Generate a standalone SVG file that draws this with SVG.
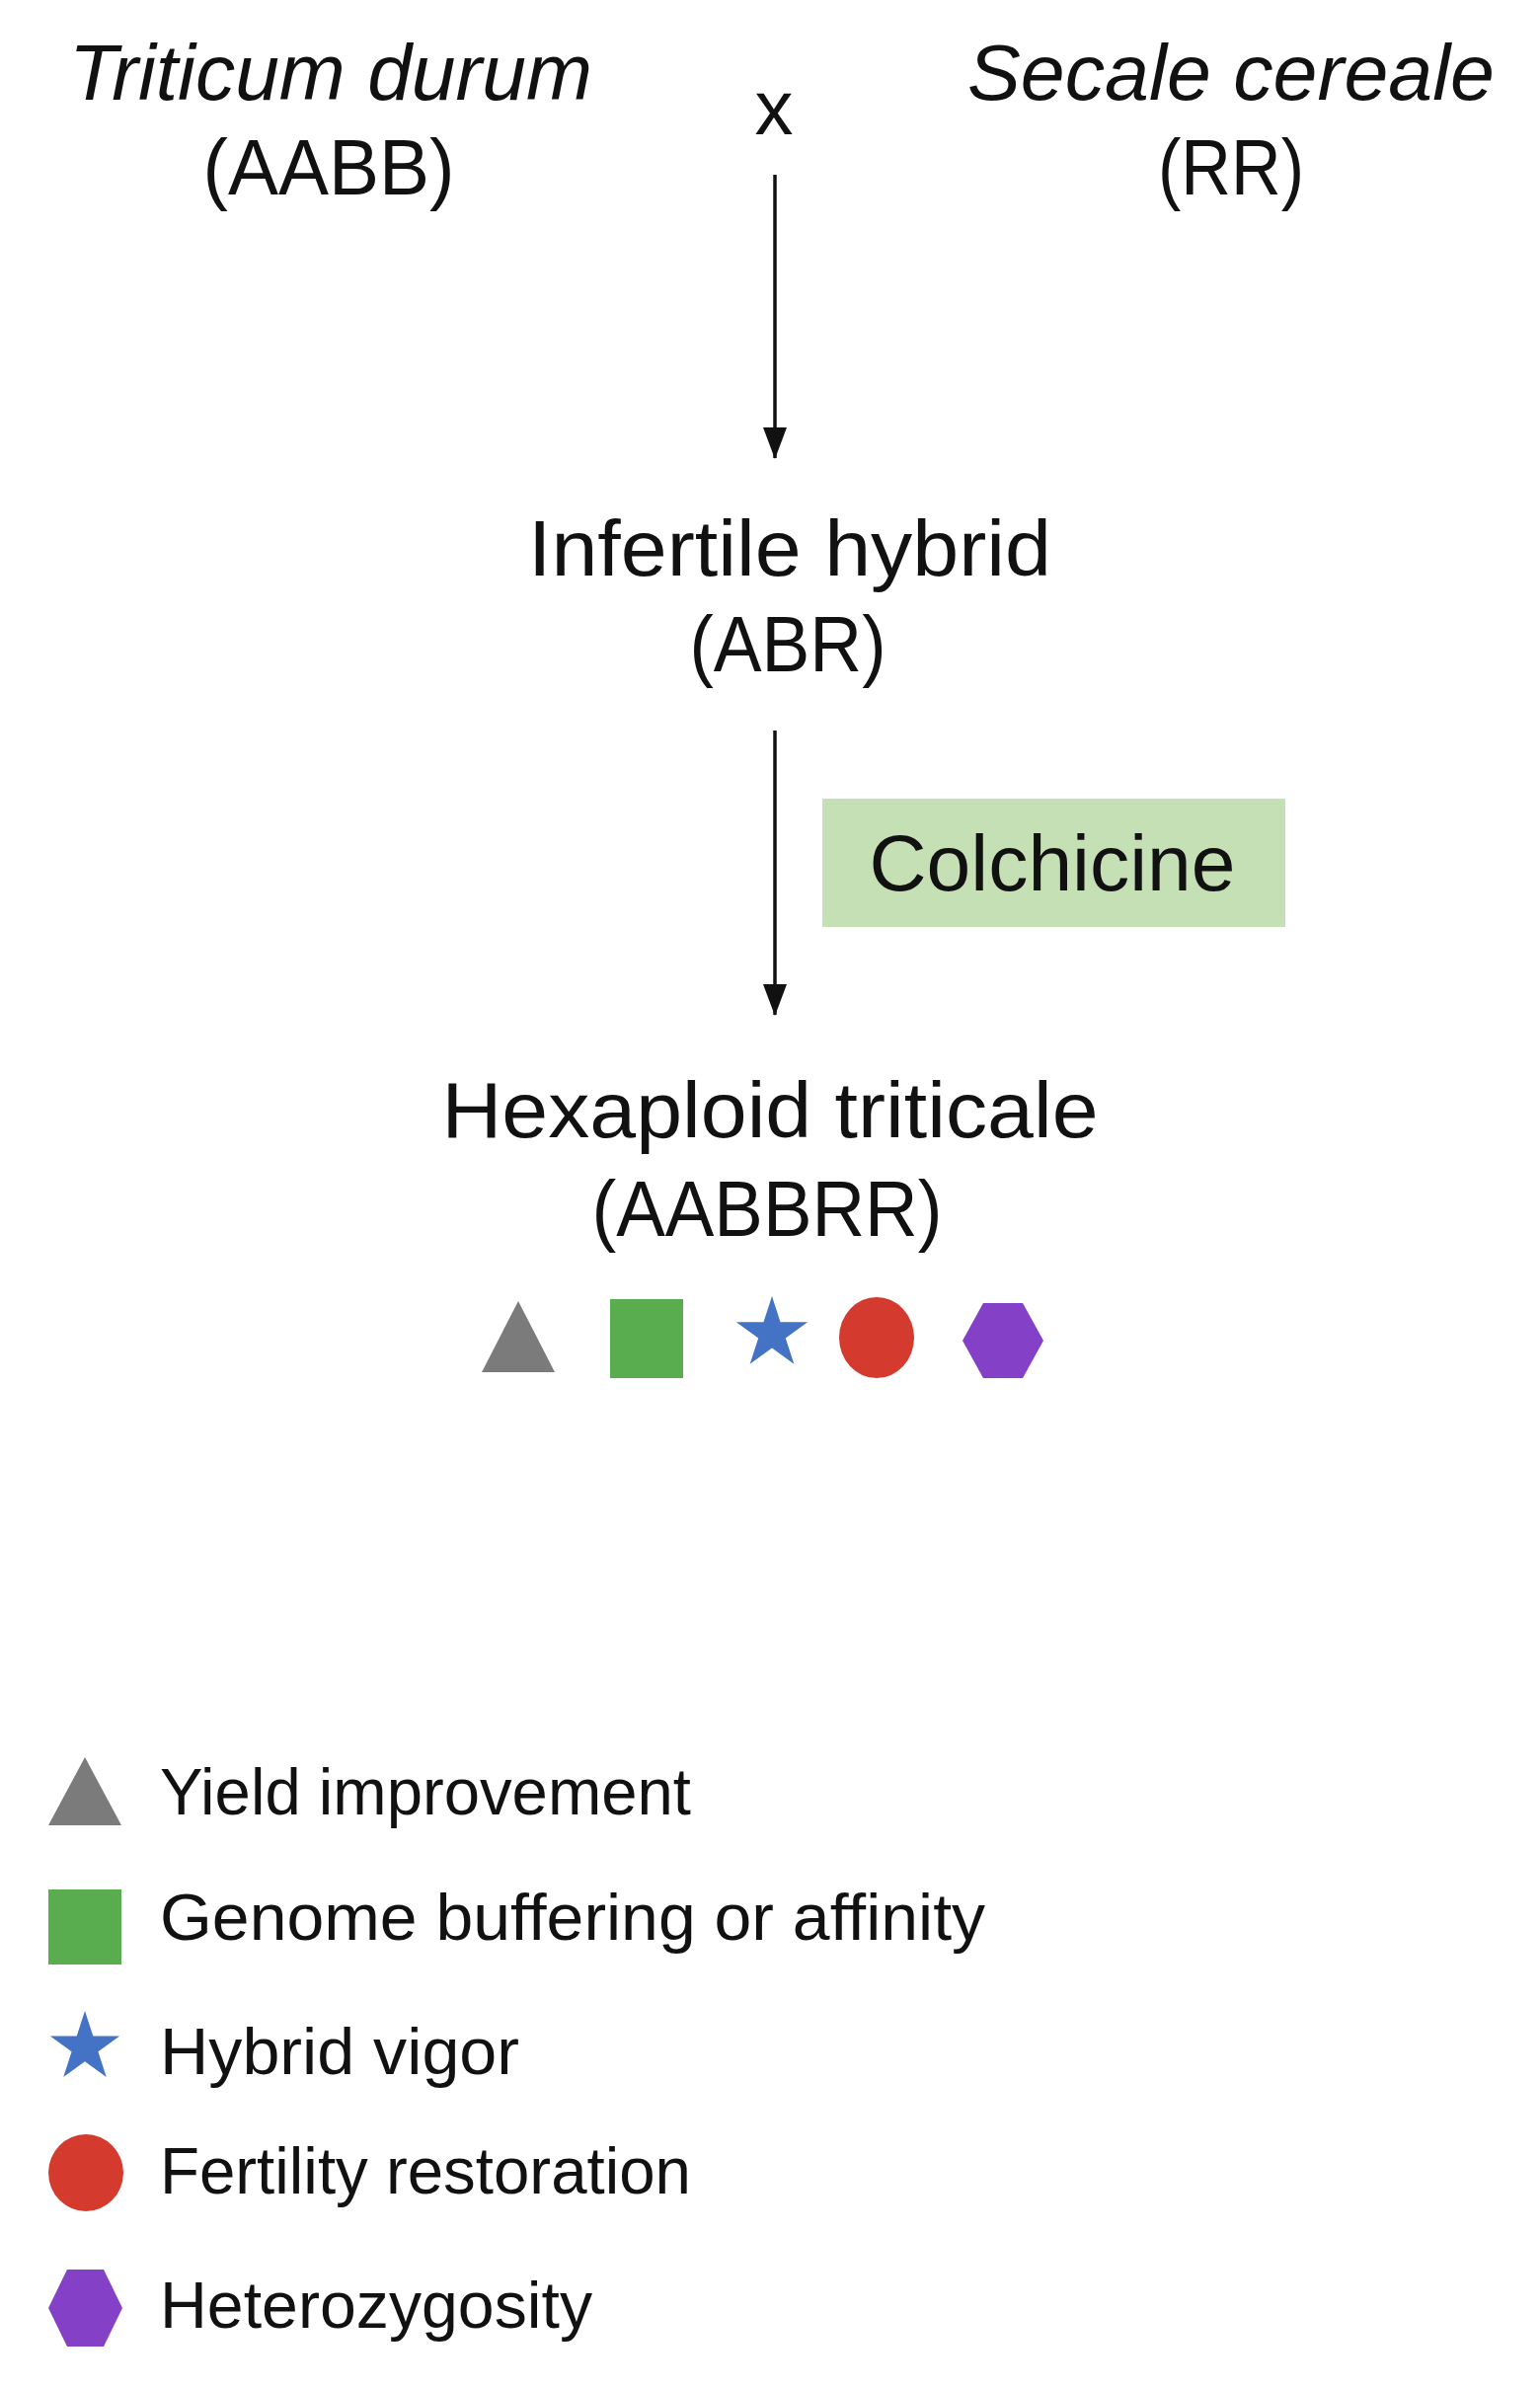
<svg xmlns="http://www.w3.org/2000/svg" xmlns:xlink="http://www.w3.org/1999/xlink" width="1560" height="2419" viewBox="0 0 1560 2419">
<style>
text{font-family:"Liberation Sans","Noto Sans",Arial,sans-serif;fill:#111;}
.t{font-size:80px;text-anchor:middle;}
.it{font-style:italic;}
.lg{font-size:66px;}
.conn{stroke:#111;stroke-width:3.5;fill:none;}
.tri{fill:#7b7b7b;}
.sq{fill:#5aad4f;}
.st{fill:#4472c4;}
.ci{fill:#d43a2e;}
.hx{fill:#8441c8;}
</style>
<defs>
<marker id="ah" viewBox="0 0 32 24" markerWidth="32" markerHeight="24" refX="31" refY="12" orient="auto" markerUnits="userSpaceOnUse">
<path d="M0,0 L32,12 L0,24 z" fill="#111"/>
</marker>
<polygon id="star" points="0,-1 0.2245,-0.309 0.951,-0.309 0.363,0.118 0.588,0.809 0,0.382 -0.588,0.809 -0.363,0.118 -0.951,-0.309 -0.2245,-0.309"/>
</defs>
<rect x="0" y="0" width="1560" height="2419" fill="#ffffff"/>

<g id="connectors">
<line class="conn" x1="785" y1="177" x2="785" y2="464" marker-end="url(#ah)"/>
<line class="conn" x1="785" y1="740" x2="785" y2="1028" marker-end="url(#ah)"/>
</g>

<g id="node-durum">
<text class="t it" x="335" y="101" textLength="530" lengthAdjust="spacingAndGlyphs">Triticum durum</text>
<text class="t" x="333" y="197" textLength="255" lengthAdjust="spacingAndGlyphs">(AABB)</text>
</g>

<g id="cross">
<text x="784" y="136" font-size="78" text-anchor="middle">x</text>
</g>

<g id="node-cereale">
<text class="t it" x="1247" y="101" textLength="534" lengthAdjust="spacingAndGlyphs">Secale cereale</text>
<text class="t" x="1247" y="197" textLength="148" lengthAdjust="spacingAndGlyphs">(RR)</text>
</g>

<g id="node-hybrid">
<text class="t" x="800" y="583" textLength="530" lengthAdjust="spacingAndGlyphs">Infertile hybrid</text>
<text class="t" x="798" y="680" textLength="199" lengthAdjust="spacingAndGlyphs">(ABR)</text>
</g>

<g id="node-colchicine">
<rect x="833" y="809" width="469" height="130" fill="#c5e0b4"/>
<text class="t" x="1066" y="902" textLength="371" lengthAdjust="spacingAndGlyphs">Colchicine</text>
</g>

<g id="node-triticale">
<text class="t" x="780" y="1152" textLength="665" lengthAdjust="spacingAndGlyphs">Hexaploid triticale</text>
<text class="t" x="777" y="1252" textLength="355" lengthAdjust="spacingAndGlyphs">(AABBRR)</text>
<polygon class="tri" points="488,1390 562,1390 525,1318"/>
<rect class="sq" x="618" y="1316" width="74" height="80"/>
<use href="#star" xlink:href="#star" class="st" transform="translate(782,1351) scale(38)"/>
<ellipse class="ci" cx="888" cy="1355" rx="38" ry="41"/>
<polygon class="hx" points="975,1358 996,1320 1036,1320 1057,1358 1036,1396 996,1396"/>
</g>

<g id="legend">
<g id="legend-yield">
<polygon class="tri" points="49,1849 123,1849 86,1780"/>
<text class="lg" x="162" y="1838" textLength="538" lengthAdjust="spacingAndGlyphs">Yield improvement</text>
</g>
<g id="legend-genome">
<rect class="sq" x="49" y="1914" width="74" height="76"/>
<text class="lg" x="162" y="1965" textLength="836" lengthAdjust="spacingAndGlyphs">Genome buffering or affinity</text>
</g>
<g id="legend-vigor">
<use href="#star" xlink:href="#star" class="st" transform="translate(86,2074) scale(37)"/>
<text class="lg" x="162" y="2101" textLength="364" lengthAdjust="spacingAndGlyphs">Hybrid vigor</text>
</g>
<g id="legend-fertility">
<ellipse class="ci" cx="87" cy="2201" rx="38" ry="39"/>
<text class="lg" x="162" y="2222" textLength="538" lengthAdjust="spacingAndGlyphs">Fertility restoration</text>
</g>
<g id="legend-hetero">
<polygon class="hx" points="49,2338 68,2299 105,2299 124,2338 105,2377 68,2377"/>
<text class="lg" x="162" y="2358" textLength="438" lengthAdjust="spacingAndGlyphs">Heterozygosity</text>
</g>
</g>
</svg>
